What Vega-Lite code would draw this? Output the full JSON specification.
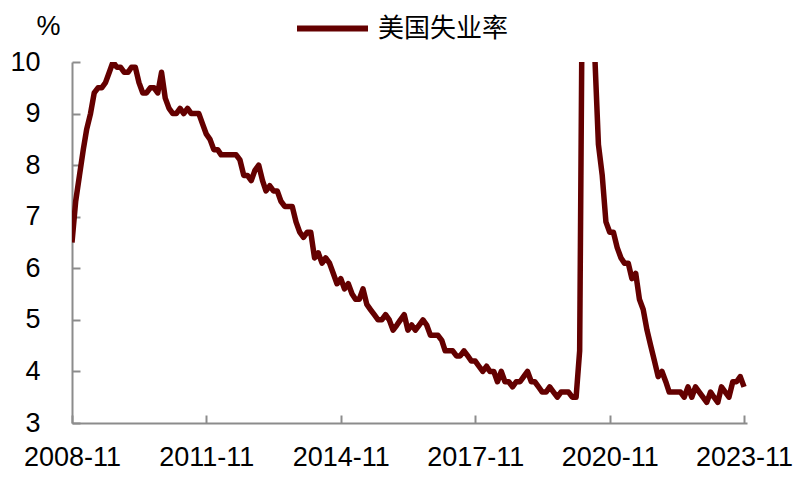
{
  "$schema": "https://vega.github.io/schema/vega-lite/v6.json",
  "autosize": {"type": "none"},
  "padding": {"left": 72, "top": 62, "right": 63, "bottom": 54},
  "width": 675,
  "height": 361,
  "background": "white",
  "config": {
    "view": {"stroke": null},
    "font": "Liberation Sans"
  },
  "data": {
    "values": [
      {"date": "2008-11", "rate": 6.5, "series": "美国失业率"},
      {"date": "2008-12", "rate": 7.3, "series": "美国失业率"},
      {"date": "2009-01", "rate": 7.8, "series": "美国失业率"},
      {"date": "2009-02", "rate": 8.3, "series": "美国失业率"},
      {"date": "2009-03", "rate": 8.7, "series": "美国失业率"},
      {"date": "2009-04", "rate": 9.0, "series": "美国失业率"},
      {"date": "2009-05", "rate": 9.4, "series": "美国失业率"},
      {"date": "2009-06", "rate": 9.5, "series": "美国失业率"},
      {"date": "2009-07", "rate": 9.5, "series": "美国失业率"},
      {"date": "2009-08", "rate": 9.6, "series": "美国失业率"},
      {"date": "2009-09", "rate": 9.8, "series": "美国失业率"},
      {"date": "2009-10", "rate": 10.0, "series": "美国失业率"},
      {"date": "2009-11", "rate": 9.9, "series": "美国失业率"},
      {"date": "2009-12", "rate": 9.9, "series": "美国失业率"},
      {"date": "2010-01", "rate": 9.8, "series": "美国失业率"},
      {"date": "2010-02", "rate": 9.8, "series": "美国失业率"},
      {"date": "2010-03", "rate": 9.9, "series": "美国失业率"},
      {"date": "2010-04", "rate": 9.9, "series": "美国失业率"},
      {"date": "2010-05", "rate": 9.6, "series": "美国失业率"},
      {"date": "2010-06", "rate": 9.4, "series": "美国失业率"},
      {"date": "2010-07", "rate": 9.4, "series": "美国失业率"},
      {"date": "2010-08", "rate": 9.5, "series": "美国失业率"},
      {"date": "2010-09", "rate": 9.5, "series": "美国失业率"},
      {"date": "2010-10", "rate": 9.4, "series": "美国失业率"},
      {"date": "2010-11", "rate": 9.8, "series": "美国失业率"},
      {"date": "2010-12", "rate": 9.3, "series": "美国失业率"},
      {"date": "2011-01", "rate": 9.1, "series": "美国失业率"},
      {"date": "2011-02", "rate": 9.0, "series": "美国失业率"},
      {"date": "2011-03", "rate": 9.0, "series": "美国失业率"},
      {"date": "2011-04", "rate": 9.1, "series": "美国失业率"},
      {"date": "2011-05", "rate": 9.0, "series": "美国失业率"},
      {"date": "2011-06", "rate": 9.1, "series": "美国失业率"},
      {"date": "2011-07", "rate": 9.0, "series": "美国失业率"},
      {"date": "2011-08", "rate": 9.0, "series": "美国失业率"},
      {"date": "2011-09", "rate": 9.0, "series": "美国失业率"},
      {"date": "2011-10", "rate": 8.8, "series": "美国失业率"},
      {"date": "2011-11", "rate": 8.6, "series": "美国失业率"},
      {"date": "2011-12", "rate": 8.5, "series": "美国失业率"},
      {"date": "2012-01", "rate": 8.3, "series": "美国失业率"},
      {"date": "2012-02", "rate": 8.3, "series": "美国失业率"},
      {"date": "2012-03", "rate": 8.2, "series": "美国失业率"},
      {"date": "2012-04", "rate": 8.2, "series": "美国失业率"},
      {"date": "2012-05", "rate": 8.2, "series": "美国失业率"},
      {"date": "2012-06", "rate": 8.2, "series": "美国失业率"},
      {"date": "2012-07", "rate": 8.2, "series": "美国失业率"},
      {"date": "2012-08", "rate": 8.1, "series": "美国失业率"},
      {"date": "2012-09", "rate": 7.8, "series": "美国失业率"},
      {"date": "2012-10", "rate": 7.8, "series": "美国失业率"},
      {"date": "2012-11", "rate": 7.7, "series": "美国失业率"},
      {"date": "2012-12", "rate": 7.9, "series": "美国失业率"},
      {"date": "2013-01", "rate": 8.0, "series": "美国失业率"},
      {"date": "2013-02", "rate": 7.7, "series": "美国失业率"},
      {"date": "2013-03", "rate": 7.5, "series": "美国失业率"},
      {"date": "2013-04", "rate": 7.6, "series": "美国失业率"},
      {"date": "2013-05", "rate": 7.5, "series": "美国失业率"},
      {"date": "2013-06", "rate": 7.5, "series": "美国失业率"},
      {"date": "2013-07", "rate": 7.3, "series": "美国失业率"},
      {"date": "2013-08", "rate": 7.2, "series": "美国失业率"},
      {"date": "2013-09", "rate": 7.2, "series": "美国失业率"},
      {"date": "2013-10", "rate": 7.2, "series": "美国失业率"},
      {"date": "2013-11", "rate": 6.9, "series": "美国失业率"},
      {"date": "2013-12", "rate": 6.7, "series": "美国失业率"},
      {"date": "2014-01", "rate": 6.6, "series": "美国失业率"},
      {"date": "2014-02", "rate": 6.7, "series": "美国失业率"},
      {"date": "2014-03", "rate": 6.7, "series": "美国失业率"},
      {"date": "2014-04", "rate": 6.2, "series": "美国失业率"},
      {"date": "2014-05", "rate": 6.3, "series": "美国失业率"},
      {"date": "2014-06", "rate": 6.1, "series": "美国失业率"},
      {"date": "2014-07", "rate": 6.2, "series": "美国失业率"},
      {"date": "2014-08", "rate": 6.1, "series": "美国失业率"},
      {"date": "2014-09", "rate": 5.9, "series": "美国失业率"},
      {"date": "2014-10", "rate": 5.7, "series": "美国失业率"},
      {"date": "2014-11", "rate": 5.8, "series": "美国失业率"},
      {"date": "2014-12", "rate": 5.6, "series": "美国失业率"},
      {"date": "2015-01", "rate": 5.7, "series": "美国失业率"},
      {"date": "2015-02", "rate": 5.5, "series": "美国失业率"},
      {"date": "2015-03", "rate": 5.4, "series": "美国失业率"},
      {"date": "2015-04", "rate": 5.4, "series": "美国失业率"},
      {"date": "2015-05", "rate": 5.6, "series": "美国失业率"},
      {"date": "2015-06", "rate": 5.3, "series": "美国失业率"},
      {"date": "2015-07", "rate": 5.2, "series": "美国失业率"},
      {"date": "2015-08", "rate": 5.1, "series": "美国失业率"},
      {"date": "2015-09", "rate": 5.0, "series": "美国失业率"},
      {"date": "2015-10", "rate": 5.0, "series": "美国失业率"},
      {"date": "2015-11", "rate": 5.1, "series": "美国失业率"},
      {"date": "2015-12", "rate": 5.0, "series": "美国失业率"},
      {"date": "2016-01", "rate": 4.8, "series": "美国失业率"},
      {"date": "2016-02", "rate": 4.9, "series": "美国失业率"},
      {"date": "2016-03", "rate": 5.0, "series": "美国失业率"},
      {"date": "2016-04", "rate": 5.1, "series": "美国失业率"},
      {"date": "2016-05", "rate": 4.8, "series": "美国失业率"},
      {"date": "2016-06", "rate": 4.9, "series": "美国失业率"},
      {"date": "2016-07", "rate": 4.8, "series": "美国失业率"},
      {"date": "2016-08", "rate": 4.9, "series": "美国失业率"},
      {"date": "2016-09", "rate": 5.0, "series": "美国失业率"},
      {"date": "2016-10", "rate": 4.9, "series": "美国失业率"},
      {"date": "2016-11", "rate": 4.7, "series": "美国失业率"},
      {"date": "2016-12", "rate": 4.7, "series": "美国失业率"},
      {"date": "2017-01", "rate": 4.7, "series": "美国失业率"},
      {"date": "2017-02", "rate": 4.6, "series": "美国失业率"},
      {"date": "2017-03", "rate": 4.4, "series": "美国失业率"},
      {"date": "2017-04", "rate": 4.4, "series": "美国失业率"},
      {"date": "2017-05", "rate": 4.4, "series": "美国失业率"},
      {"date": "2017-06", "rate": 4.3, "series": "美国失业率"},
      {"date": "2017-07", "rate": 4.3, "series": "美国失业率"},
      {"date": "2017-08", "rate": 4.4, "series": "美国失业率"},
      {"date": "2017-09", "rate": 4.3, "series": "美国失业率"},
      {"date": "2017-10", "rate": 4.2, "series": "美国失业率"},
      {"date": "2017-11", "rate": 4.2, "series": "美国失业率"},
      {"date": "2017-12", "rate": 4.1, "series": "美国失业率"},
      {"date": "2018-01", "rate": 4.0, "series": "美国失业率"},
      {"date": "2018-02", "rate": 4.1, "series": "美国失业率"},
      {"date": "2018-03", "rate": 4.0, "series": "美国失业率"},
      {"date": "2018-04", "rate": 4.0, "series": "美国失业率"},
      {"date": "2018-05", "rate": 3.8, "series": "美国失业率"},
      {"date": "2018-06", "rate": 4.0, "series": "美国失业率"},
      {"date": "2018-07", "rate": 3.8, "series": "美国失业率"},
      {"date": "2018-08", "rate": 3.8, "series": "美国失业率"},
      {"date": "2018-09", "rate": 3.7, "series": "美国失业率"},
      {"date": "2018-10", "rate": 3.8, "series": "美国失业率"},
      {"date": "2018-11", "rate": 3.8, "series": "美国失业率"},
      {"date": "2018-12", "rate": 3.9, "series": "美国失业率"},
      {"date": "2019-01", "rate": 4.0, "series": "美国失业率"},
      {"date": "2019-02", "rate": 3.8, "series": "美国失业率"},
      {"date": "2019-03", "rate": 3.8, "series": "美国失业率"},
      {"date": "2019-04", "rate": 3.7, "series": "美国失业率"},
      {"date": "2019-05", "rate": 3.6, "series": "美国失业率"},
      {"date": "2019-06", "rate": 3.6, "series": "美国失业率"},
      {"date": "2019-07", "rate": 3.7, "series": "美国失业率"},
      {"date": "2019-08", "rate": 3.6, "series": "美国失业率"},
      {"date": "2019-09", "rate": 3.5, "series": "美国失业率"},
      {"date": "2019-10", "rate": 3.6, "series": "美国失业率"},
      {"date": "2019-11", "rate": 3.6, "series": "美国失业率"},
      {"date": "2019-12", "rate": 3.6, "series": "美国失业率"},
      {"date": "2020-01", "rate": 3.5, "series": "美国失业率"},
      {"date": "2020-02", "rate": 3.5, "series": "美国失业率"},
      {"date": "2020-03", "rate": 4.4, "series": "美国失业率"},
      {"date": "2020-04", "rate": 14.8, "series": "美国失业率"},
      {"date": "2020-05", "rate": 13.2, "series": "美国失业率"},
      {"date": "2020-06", "rate": 11.0, "series": "美国失业率"},
      {"date": "2020-07", "rate": 10.2, "series": "美国失业率"},
      {"date": "2020-08", "rate": 8.4, "series": "美国失业率"},
      {"date": "2020-09", "rate": 7.8, "series": "美国失业率"},
      {"date": "2020-10", "rate": 6.9, "series": "美国失业率"},
      {"date": "2020-11", "rate": 6.7, "series": "美国失业率"},
      {"date": "2020-12", "rate": 6.7, "series": "美国失业率"},
      {"date": "2021-01", "rate": 6.4, "series": "美国失业率"},
      {"date": "2021-02", "rate": 6.2, "series": "美国失业率"},
      {"date": "2021-03", "rate": 6.1, "series": "美国失业率"},
      {"date": "2021-04", "rate": 6.1, "series": "美国失业率"},
      {"date": "2021-05", "rate": 5.8, "series": "美国失业率"},
      {"date": "2021-06", "rate": 5.9, "series": "美国失业率"},
      {"date": "2021-07", "rate": 5.4, "series": "美国失业率"},
      {"date": "2021-08", "rate": 5.2, "series": "美国失业率"},
      {"date": "2021-09", "rate": 4.8, "series": "美国失业率"},
      {"date": "2021-10", "rate": 4.5, "series": "美国失业率"},
      {"date": "2021-11", "rate": 4.2, "series": "美国失业率"},
      {"date": "2021-12", "rate": 3.9, "series": "美国失业率"},
      {"date": "2022-01", "rate": 4.0, "series": "美国失业率"},
      {"date": "2022-02", "rate": 3.8, "series": "美国失业率"},
      {"date": "2022-03", "rate": 3.6, "series": "美国失业率"},
      {"date": "2022-04", "rate": 3.6, "series": "美国失业率"},
      {"date": "2022-05", "rate": 3.6, "series": "美国失业率"},
      {"date": "2022-06", "rate": 3.6, "series": "美国失业率"},
      {"date": "2022-07", "rate": 3.5, "series": "美国失业率"},
      {"date": "2022-08", "rate": 3.7, "series": "美国失业率"},
      {"date": "2022-09", "rate": 3.5, "series": "美国失业率"},
      {"date": "2022-10", "rate": 3.7, "series": "美国失业率"},
      {"date": "2022-11", "rate": 3.6, "series": "美国失业率"},
      {"date": "2022-12", "rate": 3.5, "series": "美国失业率"},
      {"date": "2023-01", "rate": 3.4, "series": "美国失业率"},
      {"date": "2023-02", "rate": 3.6, "series": "美国失业率"},
      {"date": "2023-03", "rate": 3.5, "series": "美国失业率"},
      {"date": "2023-04", "rate": 3.4, "series": "美国失业率"},
      {"date": "2023-05", "rate": 3.7, "series": "美国失业率"},
      {"date": "2023-06", "rate": 3.6, "series": "美国失业率"},
      {"date": "2023-07", "rate": 3.5, "series": "美国失业率"},
      {"date": "2023-08", "rate": 3.8, "series": "美国失业率"},
      {"date": "2023-09", "rate": 3.8, "series": "美国失业率"},
      {"date": "2023-10", "rate": 3.9, "series": "美国失业率"},
      {"date": "2023-11", "rate": 3.7, "series": "美国失业率"}
    ]
  },
  "mark": {"type": "line", "clip": true, "strokeWidth": 5.5, "strokeJoin": "round", "strokeCap": "butt"},
  "encoding": {
    "x": {
      "field": "date",
      "type": "temporal",
      "scale": {
        "type": "utc",
        "nice": false,
        "domain": [
          {"year": 2008, "month": 11, "date": 1, "utc": true},
          {"year": 2023, "month": 11, "date": 25, "utc": true}
        ]
      },
      "axis": {
        "title": null,
        "values": [
          {"year": 2008, "month": 11, "date": 1, "utc": true},
          {"year": 2011, "month": 11, "date": 1, "utc": true},
          {"year": 2014, "month": 11, "date": 1, "utc": true},
          {"year": 2017, "month": 11, "date": 1, "utc": true},
          {"year": 2020, "month": 11, "date": 1, "utc": true},
          {"year": 2023, "month": 11, "date": 1, "utc": true}
        ],
        "format": "%Y-%m",
        "grid": false,
        "domainColor": "#8c8c8c",
        "domainWidth": 2,
        "tickColor": "#8c8c8c",
        "tickWidth": 2,
        "tickSize": -8,
        "labelFont": "Liberation Sans",
        "labelFontSize": 27,
        "labelColor": "#000000",
        "labelPadding": 29,
        "labelFlush": false,
        "labelOverlap": false
      }
    },
    "y": {
      "field": "rate",
      "type": "quantitative",
      "scale": {"domain": [3, 10], "nice": false, "zero": false},
      "axis": {
        "title": "%",
        "titleAngle": 0,
        "titleX": -24,
        "titleY": -36,
        "titleAlign": "center",
        "titleBaseline": "middle",
        "titleFont": "Liberation Sans",
        "titleFontSize": 27,
        "titleFontWeight": "normal",
        "titleColor": "#000000",
        "values": [3, 4, 5, 6, 7, 8, 9, 10],
        "format": "d",
        "grid": false,
        "domainColor": "#8c8c8c",
        "domainWidth": 2,
        "tickColor": "#8c8c8c",
        "tickWidth": 2,
        "tickSize": -8,
        "labelFont": "Liberation Sans",
        "labelFontSize": 27,
        "labelColor": "#000000",
        "labelPadding": 40,
        "labelFlush": false,
        "labelOverlap": false
      }
    },
    "color": {
      "field": "series",
      "type": "nominal",
      "scale": {"range": ["#640000"]},
      "legend": {
        "title": null,
        "orient": "none",
        "legendX": 222,
        "legendY": -72,
        "padding": 0,
        "symbolType": "stroke",
        "symbolSize": 5041,
        "symbolStrokeWidth": 6,
        "labelFont": "Noto Sans CJK SC",
        "labelFontSize": 26,
        "labelColor": "#000000",
        "labelOffset": 7
      }
    }
  }
}
